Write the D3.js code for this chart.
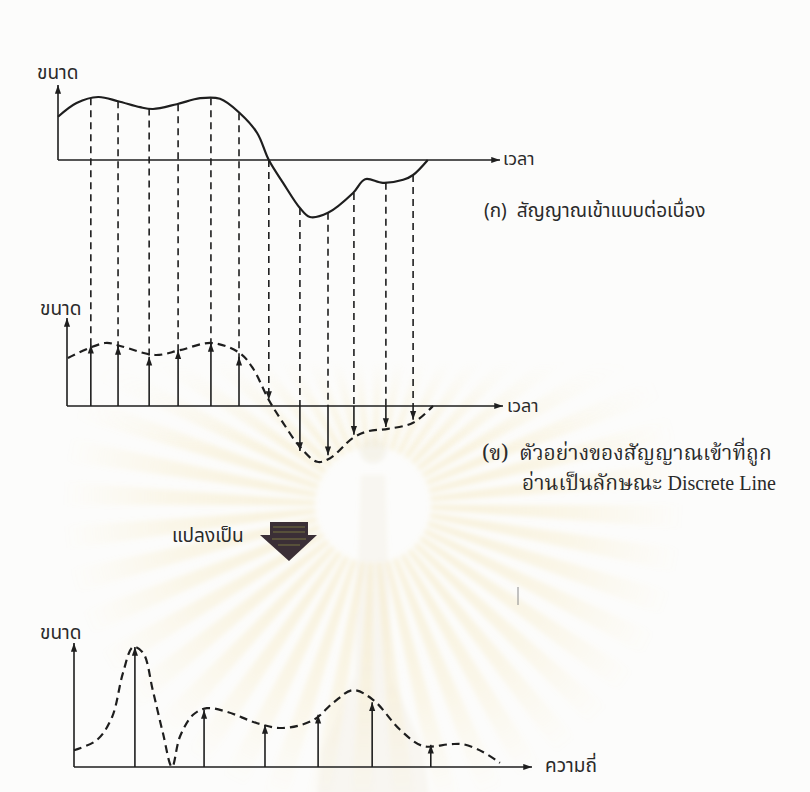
<!DOCTYPE html>
<html>
<head>
<meta charset="utf-8">
<script src="https://cdn.jsdelivr.net/npm/d3@7"></script>
<style>
  body { margin: 0; background: #fcfcfb; }
  svg { display: block; }
  .thai { font-family: "Noto Sans Thai", "Noto Sans", "DejaVu Sans", sans-serif; fill: #2a2a2a; }
  .serif { font-family: "Noto Serif Thai", "Liberation Serif", "DejaVu Serif", serif; fill: #2a2a2a; }
  .latin { font-family: "Liberation Serif", "DejaVu Serif", serif; }
</style>
</head>
<body>
<svg></svg>
<script>
// continuous input signal (panel ก), time 0..100, amplitude in signal units
var signalTime = [0, 4.3, 9.3, 13.9, 19.0, 22.0, 27.5, 32.9, 37.5, 42.1, 46.1, 48.8, 52.1, 56.0, 58.3, 62.5, 68.3, 71.1, 75.2, 79.9, 82.2, 85.6]
var signalAmp = [0.72, 0.95, 1.05, 0.98, 0.88, 0.85, 0.93, 1.03, 1.02, 0.78, 0.45, 0, -0.38, -0.8, -0.95, -0.88, -0.55, -0.32, -0.38, -0.33, -0.25, 0]

// sampling instants, value of the curve at each one, and the sampled values (panel ข)
var sampleTime = [7.6, 13.9, 21.1, 27.8, 35.4, 41.9, 48.8, 56.0, 62.5, 68.5, 75.9, 82.2]
var sampleCurveAmp = [1.03, 0.98, 0.86, 0.93, 1.03, 0.78, 0, -0.8, -0.88, -0.55, -0.38, -0.25]
var sampleAmp = [1.02, 1.0, 0.82, 0.93, 1.05, 0.82, 0, -0.75, -0.82, -0.48, -0.35, -0.23]

// dashed envelope through the samples
var envTime = [2.3, 10.9, 14.4, 22.5, 28.2, 35.6, 42.1, 45.1, 48.8, 52.1, 56.0, 60.0, 63.0, 68.3, 71.8, 76.4, 82.2, 86.8]
var envAmp = [0.8, 1.05, 1.0, 0.85, 0.93, 1.05, 0.88, 0.63, 0.1, -0.28, -0.68, -0.93, -0.87, -0.53, -0.42, -0.38, -0.28, 0]

// frequency spectrum (bottom panel)
var specFreq = [1.33, 2.84, 4.17, 5.33, 6.51, 7.79]
var specMag = [2.0, 0.95, 0.7, 0.87, 1.08, 0.37]
var specEnvFreq = [0, 0.5, 0.83, 1.07, 1.29, 1.51, 1.72, 1.94, 2.14, 2.31, 2.6, 2.9, 3.34, 4.0, 4.56, 5.22, 5.66, 6.09, 6.53, 7.12, 7.62, 8.21, 8.49, 8.93, 9.3]
var specEnvMag = [0.28, 0.45, 0.83, 1.57, 2.0, 1.9, 1.28, 0.57, 0, 0.5, 0.87, 0.98, 0.92, 0.73, 0.65, 0.78, 1.07, 1.28, 1.12, 0.62, 0.35, 0.38, 0.38, 0.25, 0.07]

// labels
var amplitudeLabel = 'ขนาด'
var timeLabel = 'เวลา'
var freqLabel = 'ความถี่'
var captionA = '(ก)  สัญญาณเข้าแบบต่อเนื่อง'
var captionB1 = '(ข)  ตัวอย่างของสัญญาณเข้าที่ถูก'
var captionB2 = ['อ่านเป็นลักษณะ ', 'Discrete Line']
var convertLabel = 'แปลงเป็น'

var W = 810, H = 792
var ink = '#1e1e1e'
var svg = d3.select('svg').attr('width', W).attr('height', H)

// arrowhead marker
var defs = svg.append('defs')
defs.append('marker')
    .attr('id', 'head')
    .attr('viewBox', '0 -4 10 8')
    .attr('refX', 10).attr('refY', 0)
    .attr('markerUnits', 'userSpaceOnUse')
    .attr('markerWidth', 9).attr('markerHeight', 7)
    .attr('orient', 'auto')
    .append('path').attr('d', 'M0,-3.5L10,0L0,3.5Z').attr('fill', ink)

// faint watermark (sunburst) behind everything, drawn round its centre
var cx = 373, cy = 505
var grad = defs.append('radialGradient').attr('id', 'rayfade')
    .attr('gradientUnits', 'userSpaceOnUse').attr('cx', 0).attr('cy', 0).attr('r', 310)
grad.append('stop').attr('offset', '18%').attr('stop-color', '#f2d88a').attr('stop-opacity', 0.3)
grad.append('stop').attr('offset', '65%').attr('stop-color', '#f2d88a').attr('stop-opacity', 0.16)
grad.append('stop').attr('offset', '100%').attr('stop-color', '#f2d88a').attr('stop-opacity', 0)

// fade the watermark out towards the top
var fade = defs.append('linearGradient').attr('id', 'topfade')
    .attr('gradientUnits', 'userSpaceOnUse').attr('x1', 0).attr('y1', 360 - cy).attr('x2', 0).attr('y2', 450 - cy)
fade.append('stop').attr('offset', '0%').attr('stop-color', '#000')
fade.append('stop').attr('offset', '100%').attr('stop-color', '#fff')
defs.append('mask').attr('id', 'wmmask')
    .attr('maskUnits', 'userSpaceOnUse')
    .attr('x', -cx).attr('y', -cy).attr('width', W).attr('height', H)
    .append('rect').attr('x', -cx).attr('y', -cy).attr('width', W).attr('height', H)
    .attr('fill', 'url(#topfade)')
defs.append('filter').attr('id', 'soft')
    .append('feGaussianBlur').attr('stdDeviation', 2.5)

var wm = svg.append('g').attr('transform', 'translate(' + cx + ',' + cy + ')')
    .attr('mask', 'url(#wmmask)')
    .attr('filter', 'url(#soft)')
var ray = d3.arc().innerRadius(58).outerRadius(310)
wm.selectAll('path.ray')
    .data(d3.range(44))
    .enter().append('path')
    .attr('class', 'ray')
    .attr('d', function(i) {
        var a = i * 2 * Math.PI / 44
        return ray({startAngle: a, endAngle: a + 0.075})
    })
    .attr('fill', 'url(#rayfade)')
wm.append('path')
    .attr('d', 'M-12,-30 L12,-30 L18,170 L50,245 L56,290 L-56,290 L-50,245 L-18,170 Z')
    .attr('fill', '#ebe3cd').attr('opacity', 0.22)
wm.append('circle').attr('cy', -55).attr('r', 13).attr('fill', '#ece5d3').attr('opacity', 0.4)

// scales
var x = d3.scaleLinear().domain([0, 100]).range([58, 490])
var yA = d3.scaleLinear().domain([-1, 1]).range([220, 100])
var yB = d3.scaleLinear().domain([-1, 1]).range([466, 346])
var xF = d3.scaleLinear().domain([0, 10]).range([74, 532])
var yF = d3.scaleLinear().domain([0, 2]).range([767, 647])

function arrowLine(g, x1, y1, x2, y2, w) {
    g.append('line')
        .attr('x1', x1).attr('y1', y1).attr('x2', x2).attr('y2', y2)
        .attr('stroke', ink).attr('stroke-width', w || 1.6)
        .attr('marker-end', 'url(#head)')
}

// ---------- panel ก : continuous signal ----------
var gA = svg.append('g')
arrowLine(gA, x(0), yA(0), x(0), 85)
arrowLine(gA, x(0), yA(0), 500, yA(0))
gA.append('text').attr('class', 'thai').attr('x', 37).attr('y', 79)
    .attr('font-size', 19).text(amplitudeLabel)
gA.append('text').attr('class', 'thai').attr('x', 503).attr('y', 165)
    .attr('font-size', 18).text(timeLabel)

var lineA = d3.line()
    .x(function(d) { return x(d[0]) })
    .y(function(d) { return yA(d[1]) })
    .curve(d3.curveCatmullRom.alpha(0.5))
gA.append('path')
    .attr('d', lineA(d3.zip(signalTime, signalAmp)))
    .attr('fill', 'none').attr('stroke', ink).attr('stroke-width', 2.2)

gA.append('text').attr('class', 'thai').attr('x', 484).attr('y', 217)
    .attr('font-size', 19).attr('xml:space', 'preserve').text(captionA)

// dashed projection lines from the curve down to panel ข
var samples = sampleTime.map(function(t, i) {
    return {t: t, top: sampleCurveAmp[i], v: sampleAmp[i]}
})
svg.append('g').selectAll('line')
    .data(samples)
    .enter().append('line')
    .attr('x1', function(d) { return x(d.t) })
    .attr('x2', function(d) { return x(d.t) })
    .attr('y1', function(d) { return yA(d.top) })
    .attr('y2', function(d) {
        if (d.v > 0) return yB(d.v) + 4
        if (d.v === 0) return yB(0) - 6
        return yB(0)
    })
    .attr('stroke', ink).attr('stroke-width', 1.6)
    .attr('stroke-dasharray', '7,5')
    .attr('marker-end', function(d) { return d.v === 0 ? 'url(#head)' : null })

// ---------- panel ข : sampled signal ----------
var gB = svg.append('g')
arrowLine(gB, 67, yB(0), 67, 318)
arrowLine(gB, 67, yB(0), 503, yB(0))
gB.append('text').attr('class', 'thai').attr('x', 40).attr('y', 315)
    .attr('font-size', 19).text(amplitudeLabel)
gB.append('text').attr('class', 'thai').attr('x', 507).attr('y', 412)
    .attr('font-size', 18).text(timeLabel)

var lineB = d3.line()
    .x(function(d) { return x(d[0]) })
    .y(function(d) { return yB(d[1]) })
    .curve(d3.curveCatmullRom.alpha(0.5))
gB.append('path')
    .attr('d', lineB(d3.zip(envTime, envAmp)))
    .attr('fill', 'none').attr('stroke', ink).attr('stroke-width', 2.2)
    .attr('stroke-dasharray', '8,5')

gB.selectAll('line.sample')
    .data(samples.filter(function(d) { return d.v !== 0 }))
    .enter().append('line')
    .attr('class', 'sample')
    .attr('x1', function(d) { return x(d.t) })
    .attr('x2', function(d) { return x(d.t) })
    .attr('y1', yB(0))
    .attr('y2', function(d) { return yB(d.v) })
    .attr('stroke', ink).attr('stroke-width', 1.6)
    .attr('marker-end', 'url(#head)')

gB.append('text').attr('class', 'serif').attr('x', 482).attr('y', 460)
    .attr('font-size', 21).attr('xml:space', 'preserve').text(captionB1)
var cap2 = gB.append('text').attr('class', 'serif').attr('x', 522).attr('y', 490)
    .attr('font-size', 21).attr('xml:space', 'preserve')
cap2.append('tspan').text(captionB2[0])
cap2.append('tspan').attr('class', 'latin').attr('font-size', 20).text(captionB2[1])

// ---------- "แปลงเป็น" block arrow ----------
var gC = svg.append('g')
gC.append('text').attr('class', 'thai').attr('x', 172).attr('y', 542)
    .attr('font-size', 19).text(convertLabel)
gC.append('path')
    .attr('d', 'M270,522 L308,522 L308,535 L317,535 L289,561 L260,535 L270,535 Z')
    .attr('fill', '#3b2f36')
gC.selectAll('line.stripe')
    .data([527, 532, 539, 545])
    .enter().append('line')
    .attr('x1', function(d, i) { return i < 2 ? 273 : 268 + (d - 535) })
    .attr('x2', function(d, i) { return i < 2 ? 305 : 310 - (d - 535) })
    .attr('y1', function(d) { return d }).attr('y2', function(d) { return d })
    .attr('stroke', '#6f6a3e').attr('stroke-width', 1.4).attr('opacity', 0.8)

// scan speck
svg.append('line').attr('x1', 518).attr('x2', 518).attr('y1', 587).attr('y2', 605)
    .attr('stroke', '#8a8a8a').attr('stroke-width', 1)

// ---------- frequency spectrum ----------
var gD = svg.append('g')
arrowLine(gD, xF(0), yF(0), xF(0), 643)
arrowLine(gD, xF(0), yF(0), 532, yF(0))
gD.append('text').attr('class', 'thai').attr('x', 40).attr('y', 639)
    .attr('font-size', 19).text(amplitudeLabel)
gD.append('text').attr('class', 'thai').attr('x', 545).attr('y', 772)
    .attr('font-size', 19).text(freqLabel)

var lineF = d3.line()
    .x(function(d) { return xF(d[0]) })
    .y(function(d) { return yF(d[1]) })
    .curve(d3.curveCatmullRom.alpha(0.5))
gD.append('path')
    .attr('d', lineF(d3.zip(specEnvFreq, specEnvMag)))
    .attr('fill', 'none').attr('stroke', ink).attr('stroke-width', 2.2)
    .attr('stroke-dasharray', '8,5')

gD.selectAll('line.spec')
    .data(d3.zip(specFreq, specMag))
    .enter().append('line')
    .attr('class', 'spec')
    .attr('x1', function(d) { return xF(d[0]) })
    .attr('x2', function(d) { return xF(d[0]) })
    .attr('y1', yF(0))
    .attr('y2', function(d) { return yF(d[1]) })
    .attr('stroke', ink).attr('stroke-width', 1.6)
    .attr('marker-end', 'url(#head)')
</script>
</body>
</html>
